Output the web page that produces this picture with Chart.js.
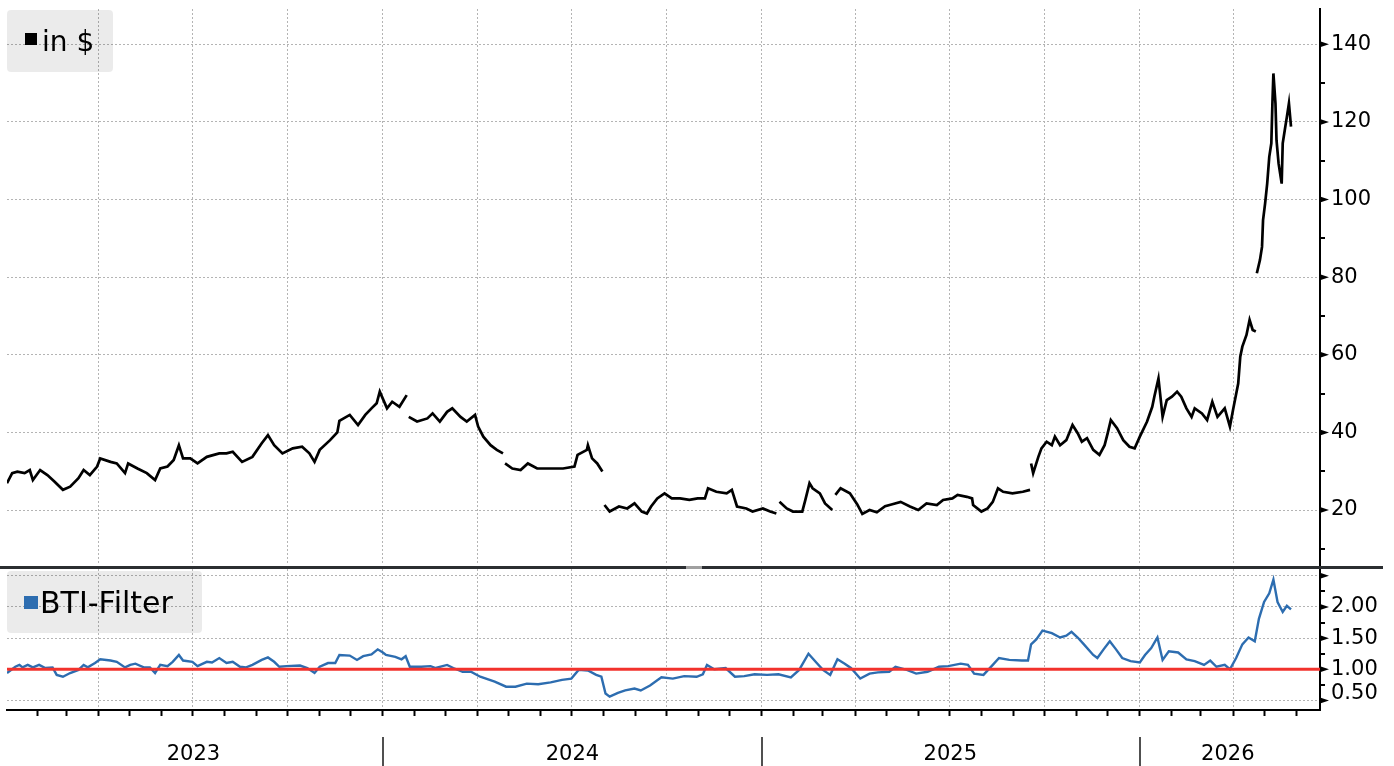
<!DOCTYPE html>
<html><head><meta charset="utf-8">
<script src="https://cdn.jsdelivr.net/npm/chart.js@4.4.1/dist/chart.umd.min.js"></script>
<style>
html,body{margin:0;padding:0;background:#fff;}
#wrap{position:relative;width:1394px;height:766px;overflow:hidden;font-family:"DejaVu Sans",sans-serif;}
canvas{position:absolute;left:0;}
#c1{top:0}
#c2{top:567px}
.lg{position:absolute;background:rgba(0,0,0,0.08);border-radius:4px;}
.sw{position:absolute;}
.tx{position:absolute;line-height:1;white-space:nowrap;color:#000;}
#sep{position:absolute;left:0;top:566px;width:1383px;height:3px;background:#2b2e31;}
#handle{position:absolute;left:686px;top:566px;width:16px;height:3px;background:#a0a0a0;}
</style></head><body>
<div id="wrap">
<canvas id="c1" width="1394" height="567"></canvas>
<canvas id="c2" width="1394" height="199"></canvas>
<div id="sep"></div><div id="handle"></div>
<div class="lg" style="left:7px;top:10px;width:106px;height:62px">
  <div class="sw" style="left:18px;top:23px;width:12px;height:12px;background:#000"></div>
  <div class="tx" style="left:35px;top:18px;font-size:28px">in $</div>
</div>
<div class="lg" style="left:7px;top:571px;width:195px;height:62px">
  <div class="sw" style="left:17px;top:25px;width:14px;height:13px;background:#2d6db0"></div>
  <div class="tx" style="left:33px;top:17px;font-size:30px">BTI-Filter</div>
</div>
</div>
<script>
// ---- data (x = days since 2023-01-01) ----
const priceDay = [2,7,12,19,24,27,34,41,48,56,63,71,76,82,89,92,102,108,116,119,128,137,145,150,157,163,168,172,179,186,195,207,214,220,229,239,248,254,260,268,278,287,294,299,304,314,321,323,333,341,348,354,359,362,369,374,381,388,
389,
390,398,408,413,420,427,432,440,446,454,457,462,469,475,481,
482,
483,490,498,505,514,527,539,550,553,562,563,567,572,577,
578,
579,584,593,601,608,615,620,624,630,637,644,652,661,669,676,679,687,697,702,707,716,722,732,739,745,
746.5,
748,755,761,770,773,777,780,787,792,799,
800.5,
802,807,816,823,828,835,842,850,857,865,874,882,890,900,906,915,920,929,934,935,943,949,954,959,964,973,983,990,
990.5,
991,993,998,1001,1006,1011,1014,1019,1025,1031,1036,1040,1045,1051,1057,1062,1065,1068,1074,1080,1086,1091,1096,1103,1108,1110,1114,1118,1122,1127,1132,1136,1141,1146,1149,1156,1161,1166,1171,1178,1183,1186,1191,1193,1195,1199,1202,1205,1208,
1208.5,
1209,1212,1214,1215,1217,1219,1221,1223,1224,1225,1227,1228,1230,1233,1234,1236,1238,1240,1242];
const priceVal = [26.9,29.5,29.9,29.5,30.3,27.7,30.3,29.0,27.3,25.2,26.0,28.2,30.3,29.0,31.2,33.3,32.4,32.0,29.5,32.0,30.7,29.5,27.7,30.7,31.2,32.9,36.7,33.3,33.3,32.0,33.7,34.6,34.6,35.0,32.4,33.7,37.2,39.3,36.7,34.6,35.9,36.3,34.6,32.4,35.5,38.0,40.0,43.0,44.5,41.9,44.5,46.2,47.5,50.5,46.2,47.9,46.6,49.6,
null,
44.0,42.8,43.6,44.9,42.8,45.3,46.2,44.0,42.8,44.5,41.5,38.9,36.7,35.5,34.6,
null,
32.0,30.7,30.3,32.0,30.7,30.7,30.7,31.2,34.2,35.5,36.7,33.3,32.0,29.9,
null,
21.3,19.6,20.9,20.4,21.7,19.6,19.1,20.9,23.0,24.3,23.0,23.0,22.6,23.0,23.0,25.6,24.7,24.3,25.2,20.9,20.4,19.6,20.4,19.6,19.1,
null,
22.1,20.4,19.6,19.6,22.6,26.9,25.6,24.3,21.7,20.0,
null,
23.9,25.6,24.3,21.5,19.0,20.0,19.4,21.0,21.5,22.1,20.9,20.0,21.7,21.3,22.6,23.0,23.9,23.4,23.0,21.3,19.6,20.4,22.1,25.6,24.7,24.3,24.7,25.2,
null,
32.0,29.5,33.7,35.9,37.6,36.7,38.9,36.7,38.0,41.9,39.8,37.6,38.5,35.5,34.2,36.7,39.8,43.2,41.1,38.0,36.3,35.9,38.9,42.8,46.6,49.2,53.9,44.0,48.3,49.2,50.5,49.2,46.2,44.0,46.2,44.9,43.2,47.9,44.0,46.2,41.5,45.8,52.6,59.5,62.1,65.1,69.0,66.4,66.0,
null,
81.0,84.4,87.8,94.7,99.0,104.1,111.0,114.5,124.4,132.5,124.8,115.3,109.3,104.1,114.5,117.9,121.3,124.8,118.8];

const btiDay = [2,10,14,17,22,27,33,39,46,50,56,63,71,76,80,87,92,102,108,116,121,126,134,140,145,150,157,162,168,172,181,186,195,200,207,214,220,227,233,239,248,254,260,265,272,285,292,299,304,312,319,323,333,340,346,354,360,365,368,377,383,387,391,402,411,416,427,433,442,450,459,473,484,493,504,515,527,538,547,554,563,571,576,580,584,592,599,608,614,623,634,645,656,668,674,678,685,696,705,714,724,736,747,759,767,776,784,790,797,804,811,817,826,835,843,854,860,871,880,891,902,911,923,930,936,945,954,960,970,982,988,991,996,1002,1011,1019,1025,1030,1036,1042,1051,1055,1061,1067,1073,1079,1087,1096,1101,1107,1113,1118,1124,1133,1141,1149,1158,1164,1170,1178,1183,1189,1195,1201,1207,1211,1216,1221,1225,1229,1234,1238,1242];
const btiVal = [0.94,1.04,1.07,1.03,1.07,1.03,1.07,1.02,1.03,0.91,0.88,0.94,0.99,1.07,1.03,1.10,1.16,1.14,1.12,1.03,1.07,1.09,1.03,1.03,0.94,1.07,1.05,1.12,1.23,1.14,1.12,1.05,1.12,1.11,1.18,1.10,1.12,1.04,1.03,1.07,1.15,1.19,1.12,1.04,1.05,1.06,1.02,0.94,1.04,1.10,1.10,1.23,1.22,1.15,1.21,1.24,1.32,1.27,1.23,1.20,1.16,1.21,1.04,1.04,1.05,1.02,1.07,1.02,0.96,0.96,0.88,0.80,0.72,0.72,0.77,0.76,0.79,0.83,0.85,0.99,0.98,0.91,0.88,0.61,0.56,0.62,0.66,0.69,0.66,0.74,0.87,0.85,0.89,0.88,0.92,1.07,1.00,1.02,0.88,0.89,0.92,0.91,0.92,0.87,0.99,1.25,1.10,0.99,0.91,1.16,1.09,1.02,0.85,0.93,0.95,0.96,1.04,0.99,0.93,0.96,1.04,1.05,1.09,1.07,0.93,0.91,1.07,1.18,1.15,1.14,1.14,1.40,1.48,1.62,1.58,1.51,1.54,1.60,1.51,1.40,1.23,1.18,1.32,1.45,1.32,1.18,1.13,1.11,1.23,1.34,1.51,1.15,1.29,1.27,1.16,1.13,1.07,1.14,1.04,1.07,1.00,1.18,1.40,1.51,1.45,1.81,2.08,2.22,2.44,2.08,1.92,2.02,1.96];
const btiThreshold = 1.0;

const yearLabels = ['2023','2024','2025','2026'];
const yearLabelDay = [182, 548, 913, 1181];
const yearStartDay = [365, 731, 1096];
const priceTickLabels = [20,40,60,80,100,120,140];
const priceAxisTicks = [10,20,30,40,50,60,70,80,90,100,110,120,130,140];
const btiTickLabels = [1.0,1.5,2.0];
const btiRaisedLabels = [0.5];
const btiGridTicks = [0.5,1.0,1.5,2.0,2.5];
const btiAxisTicks = [0.5,0.75,1.0,1.25,1.5,1.75,2.0,2.25,2.5];

// ---- layout constants ----
const XMIN = 2, XMAX = 1270;
const FONT = "'DejaVu Sans', sans-serif";
const TICKFONT = { family: FONT, size: 21 };
const GRID = '#b4b4b4';
const NONE = 'rgba(0,0,0,0)';

// month starts & quarter starts (tick positions)
const monthDays = [], quarterDays = [];
for (let y = 2023; y <= 2026; y++) for (let m = 0; m < 12; m++) {
  const d = (Date.UTC(y, m, 1) - Date.UTC(2023, 0, 1)) / 86400000;
  if (d < XMIN || d > XMAX) continue;
  monthDays.push(d);
  if (m % 3 === 0) quarterDays.push(d);
}
const monthSet = new Set(monthDays), quarterSet = new Set(quarterDays);

Chart.defaults.font.family = FONT;
Chart.defaults.color = '#000';

const axisMarks = {
  id: 'axisMarks',
  afterDraw(chart, args, opts) {
    const s = chart.scales.y, ctx = chart.ctx, x0 = chart.chartArea.right;
    ctx.save();
    ctx.fillStyle = '#000'; ctx.strokeStyle = '#000'; ctx.lineWidth = 2;
    for (const v of opts.major) {
      const y = s.getPixelForValue(v);
      ctx.beginPath(); ctx.moveTo(x0, y - 3); ctx.lineTo(x0 + 9, y); ctx.lineTo(x0, y + 3); ctx.closePath(); ctx.fill();
    }
    for (const v of opts.minor) {
      const y = Math.round(s.getPixelForValue(v));
      ctx.beginPath(); ctx.moveTo(x0, y); ctx.lineTo(x0 + 5, y); ctx.stroke();
    }
    if (opts.raised) {
      ctx.font = TICKFONT.size + 'px ' + FONT;
      ctx.textAlign = 'left'; ctx.textBaseline = 'middle';
      for (const v of opts.raised) ctx.fillText(v.toFixed(2), x0 + 11, s.getPixelForValue(v) - 7);
    }
    ctx.restore();
  }
};
const yearSeps = {
  id: 'yearSeps',
  afterDraw(chart, args, opts) {
    const s = chart.scales.x, ctx = chart.ctx;
    ctx.save(); ctx.strokeStyle = '#505050'; ctx.lineWidth = 2;
    for (const d of opts.days) {
      const x = Math.round(s.getPixelForValue(d));
      ctx.beginPath(); ctx.moveTo(x, 170); ctx.lineTo(x, 199); ctx.stroke();
    }
    ctx.restore();
  }
};

function xScale(bottom) {
  return {
    type: 'linear', min: XMIN, max: XMAX, offset: false,
    afterBuildTicks: s => {
      const vals = bottom ? monthDays.concat(yearLabelDay).sort((a, b) => a - b) : quarterDays;
      s.ticks = vals.map(v => ({ value: v }));
    },
    afterFit: s => { s.height = bottom ? 56 : 0; s.paddingLeft = 0; s.paddingRight = 0; },
    grid: {
      display: true, drawOnChartArea: true, drawTicks: bottom, tickLength: 6, tickWidth: 2, lineWidth: 1,
      color: c => (c.tick && quarterSet.has(c.tick.value)) ? GRID : NONE,
      tickColor: c => (c.tick && monthSet.has(c.tick.value)) ? '#000' : NONE
    },
    border: { display: bottom, color: '#000', width: 2, dash: [2, 2] },
    ticks: {
      display: bottom, autoSkip: false, maxRotation: 0, minRotation: 0, padding: 26,
      font: { family: FONT, size: 21 }, color: '#000',
      callback: v => { const i = yearLabelDay.indexOf(v); return i >= 0 ? yearLabels[i] : ''; }
    }
  };
}

function yScale(min, max, axisTicks, gridTicks, labelTicks, fmt) {
  const gs = new Set(gridTicks), ls = new Set(labelTicks);
  return {
    type: 'linear', position: 'right', min: min, max: max,
    afterBuildTicks: s => { s.ticks = axisTicks.map(v => ({ value: v })); },
    afterFit: s => { s.width = 74; s.paddingTop = 0; s.paddingBottom = 0; },
    grid: { drawTicks: false, lineWidth: 1, color: c => (c.tick && gs.has(c.tick.value)) ? GRID : NONE },
    border: { display: true, color: '#000', width: 2, dash: [2, 2] },
    ticks: { autoSkip: false, padding: 11, font: TICKFONT, color: '#000',
      callback: v => ls.has(v) ? fmt(v) : '' }
  };
}

const priceData = priceDay.map((d, i) => ({ x: d, y: priceVal[i] }));
const btiData = btiDay.map((d, i) => ({ x: d, y: btiVal[i] }));

new Chart(document.getElementById('c1'), {
  type: 'line',
  data: { datasets: [{ data: priceData, borderColor: '#000', borderWidth: 2.7, pointRadius: 0, tension: 0, spanGaps: false, borderJoinStyle: 'miter' }] },
  options: {
    responsive: false, animation: false, devicePixelRatio: 1,
    layout: { padding: { left: 7, right: 0, top: 9, bottom: 2 } },
    plugins: { legend: { display: false }, tooltip: { enabled: false },
      axisMarks: { major: priceTickLabels, minor: priceAxisTicks.filter(v => !priceTickLabels.includes(v)) } },
    scales: { x: xScale(false), y: yScale(5.83, 149.1, priceAxisTicks, priceTickLabels, priceTickLabels, v => String(v)) }
  },
  plugins: [axisMarks]
});

new Chart(document.getElementById('c2'), {
  type: 'line',
  data: { datasets: [
    { data: [{ x: XMIN, y: btiThreshold }, { x: XMAX, y: btiThreshold }], borderColor: '#f2322c', borderWidth: 3, pointRadius: 0 },
    { data: btiData, borderColor: '#2d6db0', borderWidth: 2.4, pointRadius: 0, tension: 0 }
  ] },
  options: {
    responsive: false, animation: false, devicePixelRatio: 1,
    layout: { padding: { left: 7, right: 0, top: 2, bottom: 0 } },
    plugins: { legend: { display: false }, tooltip: { enabled: false },
      axisMarks: { major: btiGridTicks, minor: btiAxisTicks.filter(v => !btiGridTicks.includes(v)), raised: btiRaisedLabels },
      yearSeps: { days: yearStartDay } },
    scales: { x: xScale(true), y: yScale(0.346, 2.61, btiAxisTicks, btiGridTicks, btiTickLabels, v => v.toFixed(2)) }
  },
  plugins: [axisMarks, yearSeps]
});
</script>
</body></html>
